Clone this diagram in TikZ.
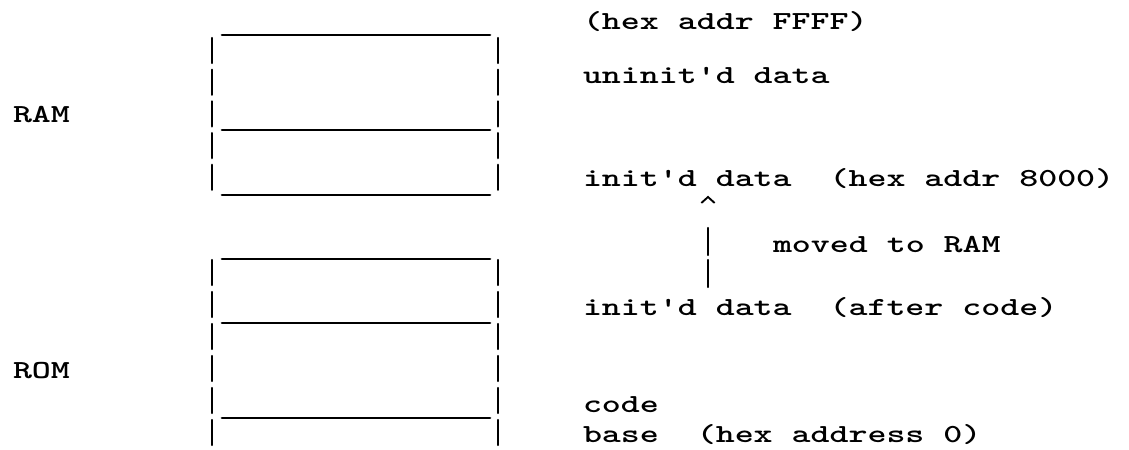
\documentclass[tikz,border=0pt]{standalone}
\newcommand\typed[1]{\scalebox{1}[0.72]{#1}}
\begin{document}
\begin{tikzpicture}[x=0.75pt,y=-0.75pt,
  tw/.style={font=\ttfamily\bfseries\fontsize{27.1}{32}\selectfont, anchor=base west,
             inner sep=0pt, outer sep=0pt},
  rule/.style={line width=2pt, line cap=round},
  bar/.style={line width=1.8pt, line cap=round},
  caret/.style={line width=1.4pt, line join=miter}]
\useasboundingbox (0,0) rectangle (1129,450);

% memory kinds on the left
\node[tw] (ram) at (13,122) {\typed{RAM}};
\node[tw] (rom) at (13,378) {\typed{ROM}};

% RAM block: horizontal rules
\draw[rule] (222,35)  -- (490,35);
\draw[rule] (222,130) -- (490,130);
\draw[rule] (222,195) -- (490,195);
% RAM block: typed side bars
\foreach \y in {38,69.7,101.4,133.1,164.8} {
  \draw[bar] (212,\y) -- (212,\y+25);
  \draw[bar] (498,\y) -- (498,\y+25);
}

% ROM block: horizontal rules
\draw[rule] (222,259) -- (490,259);
\draw[rule] (222,323) -- (490,323);
\draw[rule] (222,418) -- (490,418);
% ROM block: typed side bars
\foreach \y in {260,292,324,356,388,420} {
  \draw[bar] (212,\y) -- (212,\y+25);
  \draw[bar] (498,\y) -- (498,\y+25);
}

% address notes
\node[tw] (top)    at (583,29)  {\typed{(hex addr FFFF)}};
\node[tw] (uninit) at (583,83)  {\typed{uninit\textquotesingle d data}};
\node[tw] (iram)   at (583,186) {\typed{init\textquotesingle d data~~(hex addr 8000)}};
\node[tw] (moved)  at (773,252) {\typed{moved to RAM}};
\node[tw] (irom)   at (583,315) {\typed{init\textquotesingle d data~~(after code)}};
\node[tw] (code)   at (583,412) {\typed{code}};
\node[tw] (base)   at (583,442) {\typed{base~~(hex address 0)}};

% copy of the initialised data: typed bars ending in a caret
\coordinate (mvlow)  at (708,287);
\coordinate (mvmid1) at (708,260);
\coordinate (mvmid2) at (708,255);
\coordinate (mvhigh) at (708,228);
\coordinate (tip)    at (708,197);
\draw[bar] (mvlow) -- (mvmid1);
\draw[bar] (mvmid2) -- (mvhigh);
\draw[caret] ([xshift=-5pt,yshift=-4.5pt]tip) -- (tip) -- ([xshift=5pt,yshift=-4.5pt]tip);
\end{tikzpicture}
\end{document}
